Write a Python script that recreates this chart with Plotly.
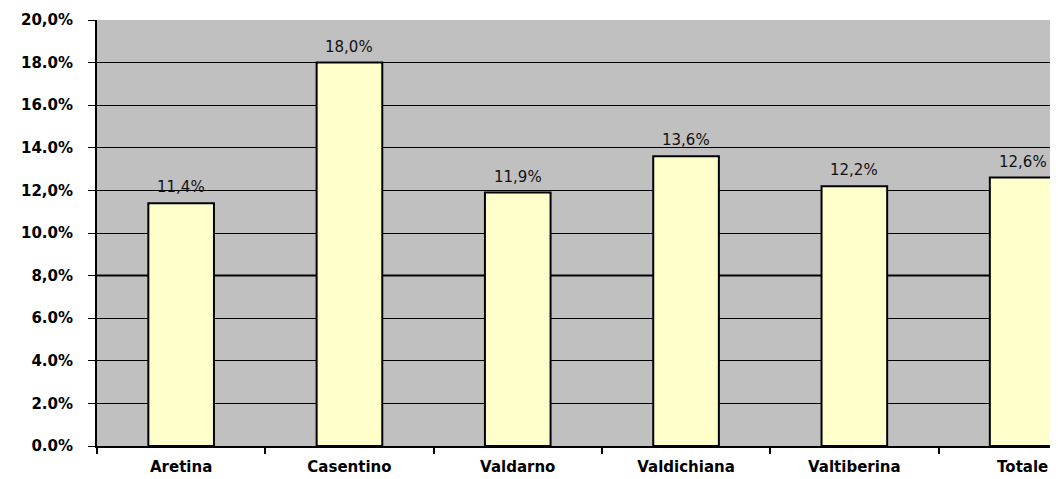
import plotly.graph_objects as go

# Data
categories = ["Aretina", "Casentino", "Valdarno", "Valdichiana", "Valtiberina", "Totale"]
values = [11.4, 18.0, 11.9, 13.6, 12.2, 12.6]
bar_labels = ["11,4%", "18,0%", "11,9%", "13,6%", "12,2%", "12,6%"]
tick_vals = [0, 2, 4, 6, 8, 10, 12, 14, 16, 18, 20]
tick_text = ["0.0%", "2.0%", "4.0%", "6.0%", "8,0%", "10.0%", "12,0%", "14.0%", "16.0%", "18.0%", "20,0%"]

FONT = "DejaVu Sans, Verdana, sans-serif"

fig = go.Figure(go.Bar(
    x=categories,
    y=values,
    width=0.39,
    marker=dict(color="#FFFFCC", line=dict(color="black", width=2)),
    hoverinfo="skip",
))

# value labels sitting a little above each bar
for cat, val, lab in zip(categories, values, bar_labels):
    fig.add_annotation(x=cat, y=val, text=lab, showarrow=False,
                       yanchor="bottom", yshift=5,
                       font=dict(family=FONT, size=15, color="#111111"))

# heavier line at 8%, as in the original
fig.add_shape(type="line", xref="paper", yref="y", x0=0, x1=1, y0=8, y1=8,
              line=dict(color="black", width=2), layer="below")

fig.update_layout(
    width=1050, height=471,
    margin=dict(l=89, r=0, t=12, b=33),
    paper_bgcolor="white",
    plot_bgcolor="#C0C0C0",
    showlegend=False,
    font=dict(family=FONT, color="black"),
)

fig.update_xaxes(
    range=[-0.5, 5.21],
    showline=True, linecolor="black", linewidth=2,
    ticks="outside", tickson="boundaries", ticklen=6, tickcolor="black", tickwidth=2,
    tickfont=dict(size=15, family=FONT),
    tickprefix="<b>", ticksuffix="</b>",
    ticklabelstandoff=6,
    showgrid=False, automargin=False,
)

fig.update_yaxes(
    range=[0, 20],
    tickvals=tick_vals, ticktext=["<b>" + t + "</b>" for t in tick_text],
    showline=True, linecolor="black", linewidth=2,
    ticks="outside", ticklen=7, tickcolor="black", tickwidth=1,
    tickfont=dict(size=15, family=FONT),
    ticklabelstandoff=12,
    showgrid=True, gridcolor="black", gridwidth=1,
    zeroline=False, automargin=False,
)

fig.write_html("out.html")
